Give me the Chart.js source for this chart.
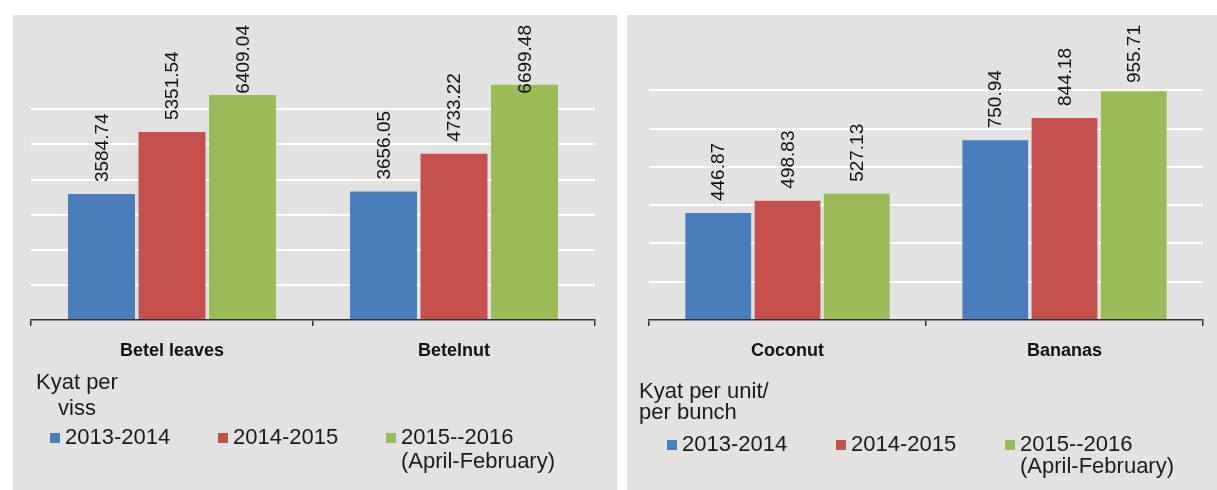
<!DOCTYPE html>
<html>
<head>
<meta charset="utf-8">
<script src="https://cdn.jsdelivr.net/npm/chart.js@4.4.1/dist/chart.umd.min.js"></script>
<style>
  body { margin: 0; background: #fff; width: 1217px; height: 490px; position: relative; overflow: hidden; }
  .panel { position: absolute; top: 15px; height: 475px; background: #e2e2e2; }
  #panelA { left: 13px; width: 604px; }
  #panelB { left: 627px; width: 590px; }
  canvas { display: block; }
</style>
</head>
<body>
<div class="panel" id="panelA"><canvas id="graficoA" width="604" height="475"></canvas></div>
<div class="panel" id="panelB"><canvas id="graficoB" width="590" height="475"></canvas></div>
<script>
const seriesNames = ['2013-2014', '2014-2015', ['2015--2016', '(April-February)']];
const seriesColors = ['#4a7ebb', '#c6504e', '#9bbb59'];

// betel
const cultivosA = ['Betel leaves', 'Betelnut'];
const precios1314A = [3584.74, 3656.05];
const precios1415A = [5351.54, 4733.22];
const precios1516A = [6409.04, 6699.48];
const unidadA = ['Kyat per', 'viss'];

// coco y platano
const cultivosB = ['Coconut', 'Bananas'];
const precios1314B = [446.87, 750.94];
const precios1415B = [498.83, 844.18];
const precios1516B = [527.13, 955.71];
const unidadB = ['Kyat per unit/', 'per bunch'];

const FUENTE = '"Liberation Sans", Arial, sans-serif';

// valores encima de cada barra, girados
const etiquetas = {
  id: 'etiquetas',
  afterDatasetsDraw(chart, args, o) {
    const ctx = chart.ctx;
    ctx.save();
    ctx.font = '19px ' + FUENTE;
    ctx.fillStyle = '#111';
    ctx.textAlign = 'left';
    ctx.textBaseline = 'middle';
    chart.data.datasets.forEach((ds, i) => {
      chart.getDatasetMeta(i).data.forEach((bar, j) => {
        const texto = ds.data[j].toFixed(2);
        const w = ctx.measureText(texto).width;
        const y = Math.max(bar.y - 12, o.techo + w);
        ctx.save();
        ctx.translate(bar.x + 1, y);
        ctx.rotate(-Math.PI / 2);
        ctx.fillText(texto, 0, 0);
        ctx.restore();
      });
    });
    ctx.restore();
  }
};

// unidad + leyenda debajo del eje
const leyenda = {
  id: 'leyenda',
  afterDraw(chart, args, o) {
    const ctx = chart.ctx;
    ctx.save();
    ctx.font = '22px ' + FUENTE;
    ctx.textBaseline = 'middle';
    ctx.fillStyle = '#1a1a1a';
    o.unidad.forEach((t, i) => {
      ctx.fillText(t, o.unidadX + o.sangria[i], o.unidadY + i * o.unidadPaso);
    });
    chart.data.datasets.forEach((ds, i) => {
      const x = o.x + i * o.paso;
      ctx.fillStyle = ds.backgroundColor;
      ctx.fillRect(x, o.y - 5, 10, 10);
      ctx.fillStyle = '#1a1a1a';
      [].concat(seriesNames[i]).forEach((t, j) => ctx.fillText(t, x + 15, o.y + j * o.lineaPaso));
    });
    ctx.restore();
  }
};

function grafico(id, cultivos, valores, cfg) {
  const datasets = valores.map((v, i) => ({
    label: [].concat(seriesNames[i]).join(' '),
    data: v,
    backgroundColor: seriesColors[i],
    categoryPercentage: 0.75,
    barPercentage: 0.95
  }));

  return new Chart(document.getElementById(id), {
    type: 'bar',
    data: { labels: cultivos, datasets: datasets },
    options: {
      responsive: false,
      animation: false,
      layout: { padding: cfg.padding },
      plugins: {
        legend: { display: false },
        tooltip: { enabled: false },
        etiquetas: { techo: 10 },
        leyenda: cfg.leyenda
      },
      scales: {
        x: {
          grid: { offset: true, drawOnChartArea: false, drawTicks: true, tickLength: 6, color: '#333', lineWidth: 1.5 },
          border: { color: '#333', width: 1.5 },
          ticks: { color: '#111', padding: 14, font: { family: FUENTE, size: 18, weight: 'bold' } },
          afterFit: s => { s.height = 170; }
        },
        y: {
          min: 0,
          max: cfg.max,
          ticks: { display: false, stepSize: cfg.paso },
          border: { display: false },
          grid: {
            lineWidth: 2,
            drawTicks: false,
            color: c => (c.tick && c.tick.value > 0 && c.tick.value <= cfg.gridMax) ? '#ffffff' : 'rgba(0,0,0,0)'
          },
          afterFit: s => { s.width = 0; }
        }
      }
    },
    plugins: [etiquetas, leyenda]
  });
}

grafico('graficoA', cultivosA, [precios1314A, precios1415A, precios1516A], {
  padding: { left: 18, right: 22, top: 24, bottom: 0 },
  max: 8000, paso: 1000, gridMax: 6000,
  leyenda: {
    unidad: unidadA, unidadX: 23, sangria: [0, 22], unidadY: 368, unidadPaso: 26,
    x: 37, y: 423, paso: 168, lineaPaso: 24
  }
});

grafico('graficoB', cultivosB, [precios1314B, precios1415B, precios1516B], {
  padding: { left: 22, right: 14, top: 37, bottom: 0 },
  max: 1120, paso: 160, gridMax: 960,
  leyenda: {
    unidad: unidadB, unidadX: 12, sangria: [0, 0], unidadY: 377, unidadPaso: 21,
    x: 40, y: 430, paso: 169, lineaPaso: 22
  }
});
</script>
</body>
</html>
